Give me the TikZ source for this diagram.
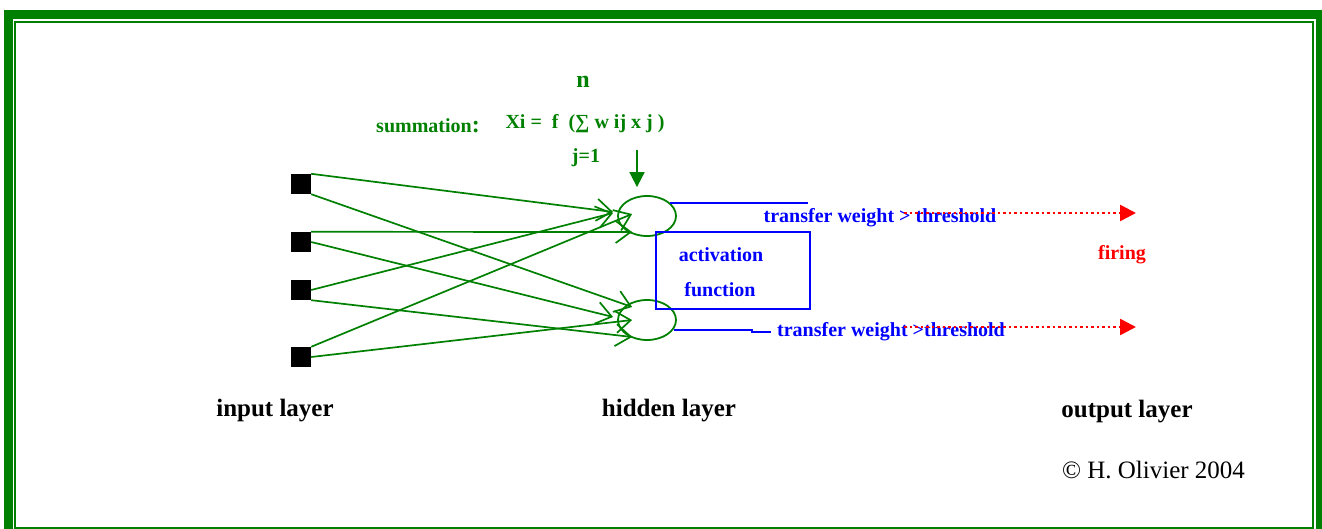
\documentclass[tikz,border=0pt]{standalone}
\usepackage{fontspec}
\setmainfont{Liberation Serif}
\usetikzlibrary{shapes.geometric,arrows.meta}
\definecolor{netgreen}{RGB}{0,128,0}
\definecolor{netblue}{RGB}{0,0,255}
\definecolor{netred}{RGB}{255,0,0}
\begin{document}
\begin{tikzpicture}[x=1pt,y=-1pt]
\tikzstyle{every node}+=[inner sep=0pt]
\tikzstyle{inputsq}=[fill=black,minimum size=20pt]
\tikzstyle{hiddenell}=[draw=netgreen,line width=1.8pt,ellipse,minimum width=58pt,minimum height=40pt]
\tikzstyle{link}=[netgreen,line width=1.7pt,-{Straight Barb[length=15pt,width=22pt]}]
\tikzstyle{greenlbl}=[text=netgreen,font=\bfseries\fontsize{20}{24}\selectfont]
\tikzstyle{bluelbl}=[text=netblue,font=\bfseries\fontsize{20}{24}\selectfont]
\tikzstyle{layerlbl}=[font=\bfseries\fontsize{25}{30}\selectfont]
\tikzstyle{fire}=[netred,line width=2.5pt,dash pattern=on 2.5pt off 3pt,-{Triangle[length=16pt,width=16pt]}]
\useasboundingbox (0,0) rectangle (1322,529);
\draw [netgreen,line width=9pt] (8.5,14.5) rectangle (1320.5,534);
\draw [netgreen,line width=2pt] (15,21.7) rectangle (1312.7,527.5);
\node [greenlbl,font=\bfseries\fontsize{24}{28}\selectfont] (sumn) at (583,82) {n};
\node [greenlbl] (sumlbl) at (428,126) {summation{\fontsize{24}{24}\selectfont :}};
\node [greenlbl] (sumeq) at (585,124) {Xi =~~f~~(∑ w ij x j )};
\node [greenlbl] (sumj) at (586,158) {j=1};
\node [inputsq] (in1) at (301,184) {};
\node [inputsq] (in2) at (301,242) {};
\node [inputsq] (in3) at (301,290) {};
\node [inputsq] (in4) at (301,357) {};
\node [hiddenell] (h1) at (647,216) {};
\node [hiddenell] (h2) at (647,320) {};
\coordinate (sumtop) at (637,150);
\draw [netgreen,line width=1.8pt,-{Triangle[length=15pt,width=15pt]}] (sumtop) -- ([xshift=-10pt,yshift=8pt]h1.north);
\draw [link] (in1.north east) -- ([xshift=-4pt,yshift=4pt]h1.west);
\draw [link] (in1.south east) -- ([xshift=15pt,yshift=13pt]h2.west);
\draw [link] (in2.north east) -- ([xshift=15pt,yshift=-16pt]h1.west);
\draw [link] (in2.east) -- ([xshift=-4pt,yshift=3pt]h2.west);
\draw [link] (in3.east) -- ([xshift=-4pt,yshift=3pt]h1.west);
\draw [link] (in3.south east) -- ([xshift=15pt,yshift=-17pt]h2.west);
\draw [link] (in4.north east) -- ([xshift=15pt,yshift=2pt]h1.west);
\draw [link] (in4.east) -- ([xshift=15pt]h2.west);
\node [draw=netblue,line width=2pt,minimum width=154pt,minimum height=77pt] (act) at (733,270.5) {};
\node [bluelbl] (actA) at (721,255) {activation};
\node [bluelbl] (actB) at (720,290) {function};
\draw [netblue,line width=2pt] (h1.30) -- ++(138,0);
\draw [netblue,line width=2pt] (h2.-20) -- ++(78,0) -- ++(0,2) -- ++(19,0);
\node [bluelbl] (tw1) at (880,218) {transfer weight > threshold};
\node [bluelbl] (tw2) at (891,332) {transfer weight >threshold};
\coordinate (r1) at (904,213);
\coordinate (out1) at (1136,213);
\coordinate (r2) at (904,327);
\coordinate (out2) at (1136,327);
\draw [fire] (r1) -- (out1);
\draw [fire] (r2) -- (out2);
\node [text=netred,font=\bfseries\fontsize{20}{24}\selectfont] (firing) at (1122,255) {firing};
\node [layerlbl] (inlbl) at (275,411) {input layer};
\node [layerlbl] (hidlbl) at (669,411) {hidden layer};
\node [layerlbl] (outlbl) at (1127,412) {output layer};
\node [font=\fontsize{25}{30}\selectfont] (copy) at (1153.5,470) {© H. Olivier 2004};
\end{tikzpicture}
\end{document}
